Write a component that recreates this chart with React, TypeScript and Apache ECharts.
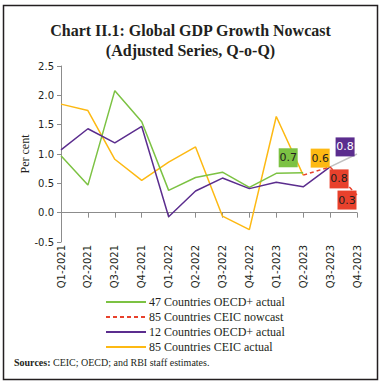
import React, { useEffect, useRef } from "react";
import * as echarts from "echarts";

const categories = [
  "Q1-2021", "Q2-2021", "Q3-2021", "Q4-2021",
  "Q1-2022", "Q2-2022", "Q3-2022", "Q4-2022",
  "Q1-2023", "Q2-2023", "Q3-2023", "Q4-2023",
];
const oecd47Actual = [0.97, 0.47, 2.08, 1.55, 0.38, 0.6, 0.69, 0.43, 0.67, 0.68, null, null];
const ceic85Nowcast = [null, null, null, null, null, null, null, null, null, 0.64, 0.78, 0.3];
const oecd12Actual = [1.07, 1.43, 1.19, 1.47, -0.07, 0.37, 0.59, 0.41, 0.52, 0.44, 0.78, null];
const ceic85Actual = [1.85, 1.74, 0.91, 0.55, 0.86, 1.12, -0.06, -0.29, 1.64, 0.64, null, null];
const oecd12Nowcast = [null, null, null, null, null, null, null, null, null, null, 0.78, 1.0];
const yTicks = { min: -0.5, max: 2.5, interval: 0.5 };

const GREEN = "#7cc243";
const RED = "#e8412c";
const PURPLE = "#5b2d8e";
const YELLOW = "#fdb913";
const GRAY = "#c0c0c0";
const SERIF = "'Liberation Serif', 'DejaVu Serif', serif";
const SANS = "'DejaVu Sans', Verdana, sans-serif";

function boxLabel(
  arr: (number | null)[],
  idx: number,
  bg: string,
  textColor: string,
  offset: [number, number]
) {
  const v = arr[idx] as number;
  return {
    coord: [categories[idx], v],
    value: v,
    symbol: "rect",
    symbolSize: [19, 19],
    symbolOffset: offset,
    itemStyle: { color: bg },
    label: {
      show: true,
      position: "inside",
      formatter: v.toFixed(1),
      color: textColor,
      fontFamily: SANS,
      fontSize: 11,
    },
  };
}

export default function App() {
  const ref = useRef<HTMLDivElement>(null);
  useEffect(() => {
    document.body.style.margin = "0";
    const chart = echarts.init(ref.current!, null, { renderer: "svg" });
    chart.setOption({
      animation: false,
      backgroundColor: "#fff",
      title: {
        text: "Chart II.1: Global GDP Growth Nowcast\n(Adjusted Series, Q-o-Q)",
        left: "center",
        top: 15,
        textStyle: {
          fontFamily: SERIF,
          fontSize: 16,
          fontWeight: "bold",
          lineHeight: 20,
          color: "#231f20",
        },
      },
      grid: { left: 61, right: 24, top: 66, bottom: 142 },
      legend: {
        orient: "vertical",
        left: 100,
        top: 291,
        itemWidth: 40,
        itemHeight: 12,
        itemGap: 3,
        itemStyle: { opacity: 0 },
        textStyle: { fontFamily: SERIF, fontSize: 12, lineHeight: 12, color: "#231f20", padding: [0, 0, 0, -2] },
        data: [
          "47 Countries OECD+ actual",
          "85 Countries CEIC nowcast",
          "12 Countries OECD+ actual",
          "85 Countries CEIC actual",
        ],
      },
      xAxis: [
        {
          type: "category",
          data: categories,
          boundaryGap: false,
          position: "bottom",
          axisLine: { show: false, onZero: false },
          axisTick: { show: false },
          axisLabel: {
            rotate: 90,
            interval: 0,
            margin: 3,
            fontFamily: SANS,
            fontSize: 10,
            color: "#231f20",
          },
        },
        {
          type: "category",
          data: categories,
          boundaryGap: false,
          position: "bottom",
          axisLine: { show: true, onZero: true, lineStyle: { color: "#8c8c8c", width: 1 } },
          axisTick: { show: true, interval: 0, length: 5, lineStyle: { color: "#8c8c8c" } },
          axisLabel: { show: false },
        },
      ],
      yAxis: {
        type: "value",
        min: yTicks.min,
        max: yTicks.max,
        interval: yTicks.interval,
        name: "Per cent",
        nameLocation: "middle",
        nameRotate: 90,
        nameGap: 30,
        nameMoveOverlap: false,
        nameTextStyle: { fontFamily: SERIF, fontSize: 12, color: "#231f20" },
        axisLine: { show: true, lineStyle: { color: "#8c8c8c" } },
        axisTick: { show: true, length: 4, lineStyle: { color: "#8c8c8c" } },
        splitLine: { show: false },
        axisLabel: {
          formatter: (v: number) => v.toFixed(1),
          fontFamily: SANS,
          fontSize: 10,
          color: "#231f20",
          margin: 7,
        },
      },
      series: [
        {
          name: "12 Countries OECD+ nowcast",
          type: "line",
          data: oecd12Nowcast,
          symbol: "none",
          lineStyle: { color: GRAY, width: 1.5 },
          itemStyle: { color: GRAY },
        },
        {
          name: "85 Countries CEIC actual",
          type: "line",
          data: ceic85Actual,
          symbol: "none",
          lineStyle: { color: YELLOW, width: 1.5 },
          itemStyle: { color: YELLOW },
        },
        {
          name: "47 Countries OECD+ actual",
          type: "line",
          data: oecd47Actual,
          symbol: "none",
          lineStyle: { color: GREEN, width: 1.5 },
          itemStyle: { color: GREEN },
        },
        {
          name: "12 Countries OECD+ actual",
          type: "line",
          data: oecd12Actual,
          symbol: "none",
          lineStyle: { color: PURPLE, width: 1.5 },
          itemStyle: { color: PURPLE },
        },
        {
          name: "85 Countries CEIC nowcast",
          type: "line",
          data: ceic85Nowcast,
          symbol: "none",
          lineStyle: { color: RED, width: 1.5, type: [4, 3] },
          itemStyle: { color: RED },
          markPoint: {
            silent: true,
            data: [
              boxLabel(oecd47Actual, 9, GREEN, "#231f20", [-15, -15]),
              boxLabel(ceic85Actual, 9, YELLOW, "#231f20", [17, -17]),
              boxLabel(oecd12Actual, 10, PURPLE, "#ffffff", [15, -20]),
              boxLabel(ceic85Nowcast, 10, RED, "#231f20", [9, 12]),
              boxLabel(ceic85Nowcast, 11, RED, "#231f20", [-10, 5]),
            ],
          },
        },
      ],
      graphic: [
        {
          type: "rect",
          shape: { x: 3.5, y: 5.5, width: 374, height: 374 },
          style: { fill: "none", stroke: "#231f20", lineWidth: 1.5 },
          silent: true,
        },
        {
          type: "text",
          left: 14,
          top: 357,
          style: {
            text: "{b|Sources:} CEIC; OECD; and RBI staff estimates.",
            font: `10px ${SERIF}`,
            fill: "#231f20",
            rich: {
              b: { fontWeight: "bold", fontFamily: SERIF, fontSize: 10, fill: "#231f20" },
            },
          },
        },
      ],
    });
    return () => chart.dispose();
  }, []);
  return (
    <div
      ref={ref}
      style={{ width: 381, height: 384, position: "absolute", left: 0, top: 0 }}
    />
  );
}
